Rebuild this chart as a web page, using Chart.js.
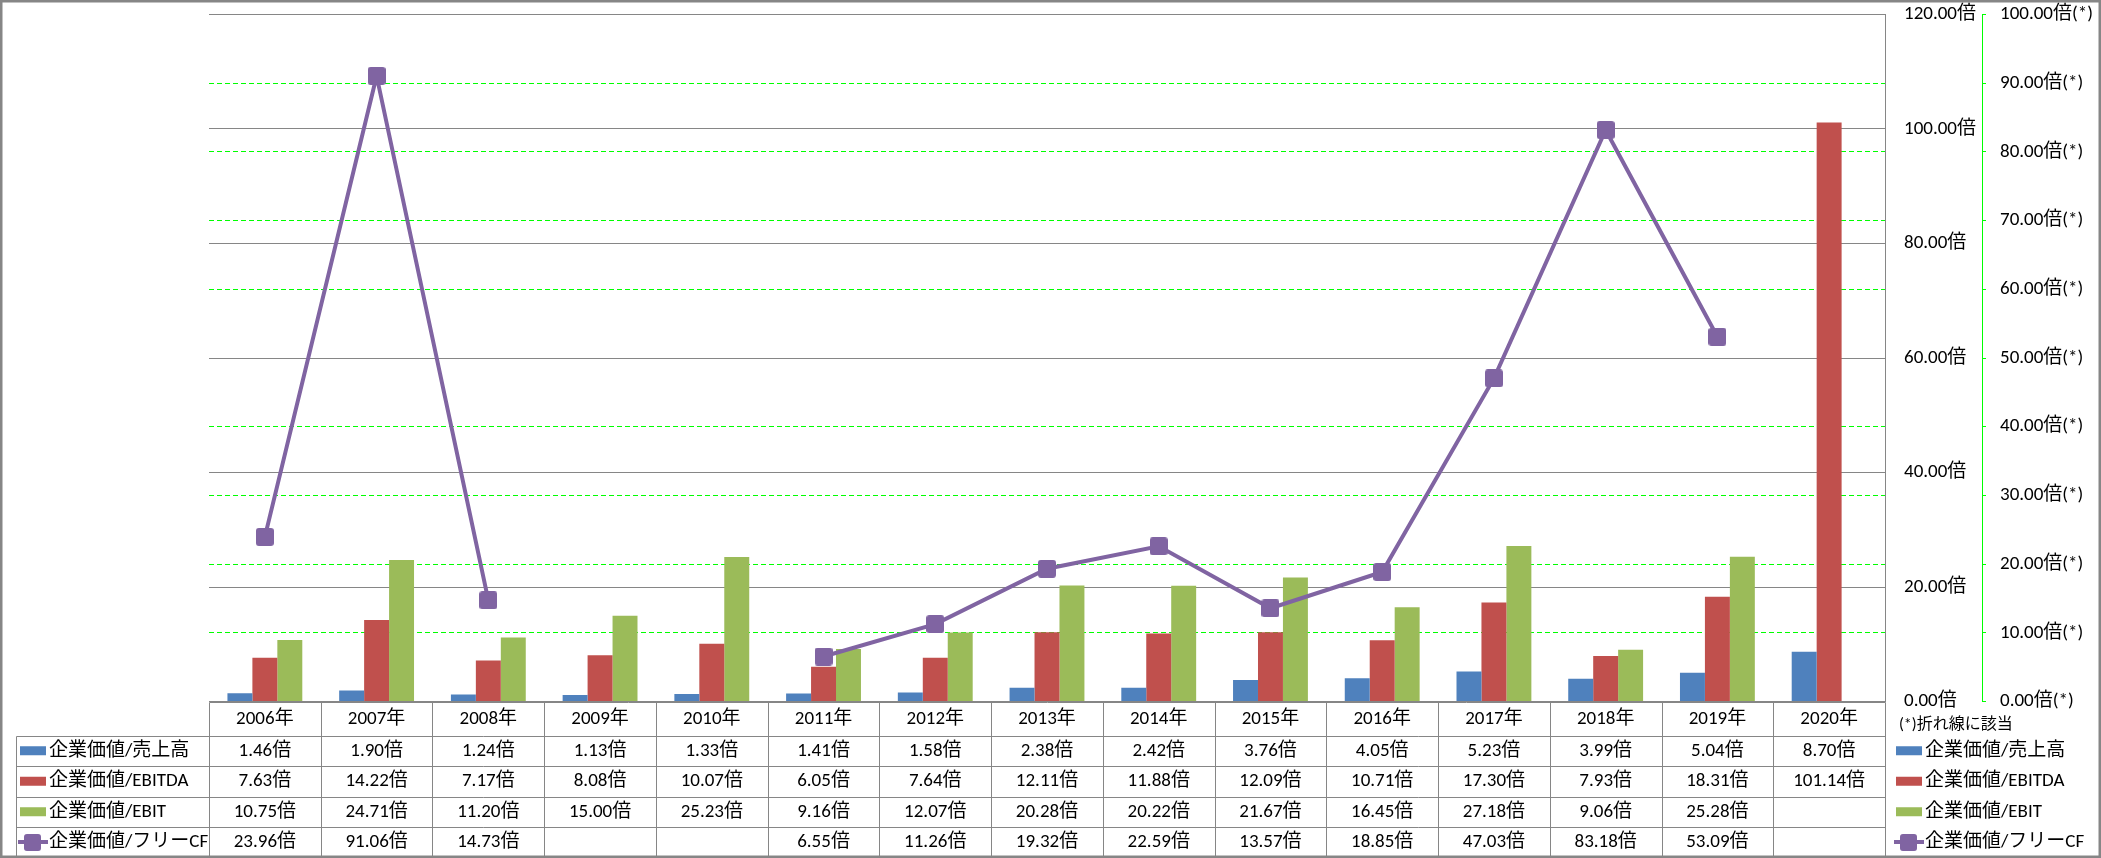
<!DOCTYPE html>
<html>
<head>
<meta charset="utf-8">
<script src="https://cdn.jsdelivr.net/npm/chart.js@4.4.0/dist/chart.umd.min.js"></script>
<style>
  body { margin: 0; background: #fff; }
  canvas { display: block; }
</style>
</head>
<body>
<canvas id="chart" width="2101" height="858"></canvas>
<script>
const years = ['2006年','2007年','2008年','2009年','2010年','2011年','2012年','2013年','2014年','2015年','2016年','2017年','2018年','2019年','2020年'];
const uriage = [1.46, 1.90, 1.24, 1.13, 1.33, 1.41, 1.58, 2.38, 2.42, 3.76, 4.05, 5.23, 3.99, 5.04, 8.70];
const ebitda = [7.63, 14.22, 7.17, 8.08, 10.07, 6.05, 7.64, 12.11, 11.88, 12.09, 10.71, 17.30, 7.93, 18.31, 101.14];
const ebit = [10.75, 24.71, 11.20, 15.00, 25.23, 9.16, 12.07, 20.28, 20.22, 21.67, 16.45, 27.18, 9.06, 25.28, null];
const freeCF = [23.96, 91.06, 14.73, null, null, 6.55, 11.26, 19.32, 22.59, 13.57, 18.85, 47.03, 83.18, 53.09, null];
const seriesNames = ['企業価値/売上高', '企業価値/EBITDA', '企業価値/EBIT', '企業価値/フリーCF'];
const note = '(*)折れ線に該当';

const colors = ['#4F81BD', '#C0504D', '#9BBB59', '#8064A2'];
const FONT = "Carlito, 'Liberation Sans Narrow', 'Noto Sans CJK JP', sans-serif";
const GRAY = '#868686';

// 角の丸い四角マーカー
function makeMarker(size) {
    const c = document.createElement('canvas');
    c.width = size; c.height = size;
    const g = c.getContext('2d');
    g.fillStyle = colors[3];
    g.beginPath();
    g.roundRect(0, 0, size, size, 3);
    g.fill();
    return c;
}
const marker = makeMarker(18);

function drawKey(ctx, i, x, y) {
    if (i < 3) {
        ctx.fillStyle = colors[i];
        ctx.fillRect(x, y - 4.5, 26, 9);
    } else {
        ctx.strokeStyle = colors[3];
        ctx.lineWidth = 4;
        ctx.beginPath(); ctx.moveTo(x - 2, y); ctx.lineTo(x + 28, y); ctx.stroke();
        ctx.drawImage(marker, x + 4, y - 8, 17, 17);
    }
}

const tablePlugin = {
    id: 'dataTable',
    afterDraw(chart) {
        const ctx = chart.ctx;
        const xs = chart.scales.x;
        const area = chart.chartArea;
        const top = Math.round(area.bottom) + 0.5;
        const rows = [top, top + 33, top + 63.5, top + 94, top + 124.5, top + 154.5];
        const colW = (xs.right - xs.left) / years.length;
        const left = Math.round(xs.left) + 0.5, right = Math.round(xs.right) + 0.5;
        const legL = 16.5;
        const values = [uriage, ebitda, ebit, freeCF];

        ctx.save();
        ctx.strokeStyle = GRAY;
        ctx.lineWidth = 1;
        ctx.beginPath();
        // 横線
        ctx.moveTo(left, rows[0]); ctx.lineTo(right, rows[0]);
        for (let r = 1; r < rows.length; r++) {
            ctx.moveTo(legL, Math.round(rows[r]) + 0.5);
            ctx.lineTo(right, Math.round(rows[r]) + 0.5);
        }
        // 縦線
        ctx.moveTo(legL, Math.round(rows[1]) + 0.5); ctx.lineTo(legL, Math.round(rows[5]) + 0.5);
        for (let i = 0; i <= years.length; i++) {
            const x = Math.round(xs.left + colW * i) + 0.5;
            ctx.moveTo(x, rows[0]); ctx.lineTo(x, Math.round(rows[5]) + 0.5);
        }
        ctx.stroke();

        ctx.fillStyle = '#000';
        ctx.font = '19px ' + FONT;
        ctx.textAlign = 'center';
        ctx.textBaseline = 'middle';
        years.forEach((y, i) => {
            const cx = xs.getPixelForValue(i);
            ctx.fillText(y, cx, (rows[0] + rows[1]) / 2);
            values.forEach((arr, r) => {
                if (arr[i] !== null) ctx.fillText(arr[i].toFixed(2) + '倍', cx, (rows[r + 1] + rows[r + 2]) / 2);
            });
        });

        // 凡例（左と右）
        ctx.textAlign = 'left';
        seriesNames.forEach((name, r) => {
            const cy = (rows[r + 1] + rows[r + 2]) / 2;
            drawKey(ctx, r, 20, cy);
            ctx.fillStyle = '#000';
            ctx.fillText(name, 49, cy);
            drawKey(ctx, r, 1896, cy);
            ctx.fillStyle = '#000';
            ctx.fillText(name, 1925, cy);
        });
        ctx.font = '16px ' + FONT;
        ctx.fillText(note, 1899, 725);

        // 外枠
        ctx.strokeStyle = GRAY;
        ctx.strokeRect(0.5, 0.5, chart.width - 1, chart.height - 1);
        ctx.restore();
    }
};

new Chart(document.getElementById('chart'), {
    type: 'bar',
    data: {
        labels: years,
        datasets: [
            { type: 'line', label: seriesNames[3], data: freeCF, yAxisID: 'y2', order: 0,
              borderColor: colors[3], borderWidth: 4, pointStyle: marker, pointRadius: 9,
              pointHoverRadius: 9, spanGaps: false, tension: 0, fill: false },
            { label: seriesNames[0], data: uriage, backgroundColor: colors[0], yAxisID: 'y', order: 1 },
            { label: seriesNames[1], data: ebitda, backgroundColor: colors[1], yAxisID: 'y', order: 1 },
            { label: seriesNames[2], data: ebit, backgroundColor: colors[2], yAxisID: 'y', order: 1 }
        ]
    },
    options: {
        responsive: false,
        animation: false,
        devicePixelRatio: 1,
        layout: { padding: { left: 209, top: 14.5, right: 0, bottom: 0 } },
        datasets: { bar: { barPercentage: 1, categoryPercentage: 0.67 } },
        plugins: { legend: { display: false }, tooltip: { enabled: false } },
        scales: {
            x: {
                grid: { display: false },
                border: { display: false },
                ticks: { display: false },
                afterFit: s => { s.height = 156.5; }
            },
            y2: {
                position: 'right', weight: 1,
                min: 0, max: 100,
                ticks: { stepSize: 10, padding: 14, color: '#000', font: { family: FONT, size: 19 },
                         callback: v => v.toFixed(2) + '倍(*)' },
                grid: { color: c => (c.tick && (c.tick.value === 100 || c.tick.value === 0)) ? 'rgba(0,0,0,0)' : '#00FF00',
                        tickColor: '#00FF00', lineWidth: 1, drawTicks: true, tickLength: 4 },
                border: { display: true, color: '#00FF00', width: 1, dash: [5, 3] },
                afterFit: s => { s.width = 119; s.paddingTop = 0; s.paddingBottom = 0; }
            },
            y: {
                position: 'right', weight: 0,
                min: 0, max: 120,
                ticks: { stepSize: 20, padding: 19, color: '#000', font: { family: FONT, size: 19 },
                         callback: v => v.toFixed(2) + '倍' },
                grid: { color: GRAY, lineWidth: 1, drawTicks: false },
                border: { display: true, color: GRAY, width: 1 },
                afterFit: s => { s.width = 97; s.paddingTop = 0; s.paddingBottom = 0; }
            }
        }
    },
    plugins: [tablePlugin]
});
</script>
</body>
</html>
